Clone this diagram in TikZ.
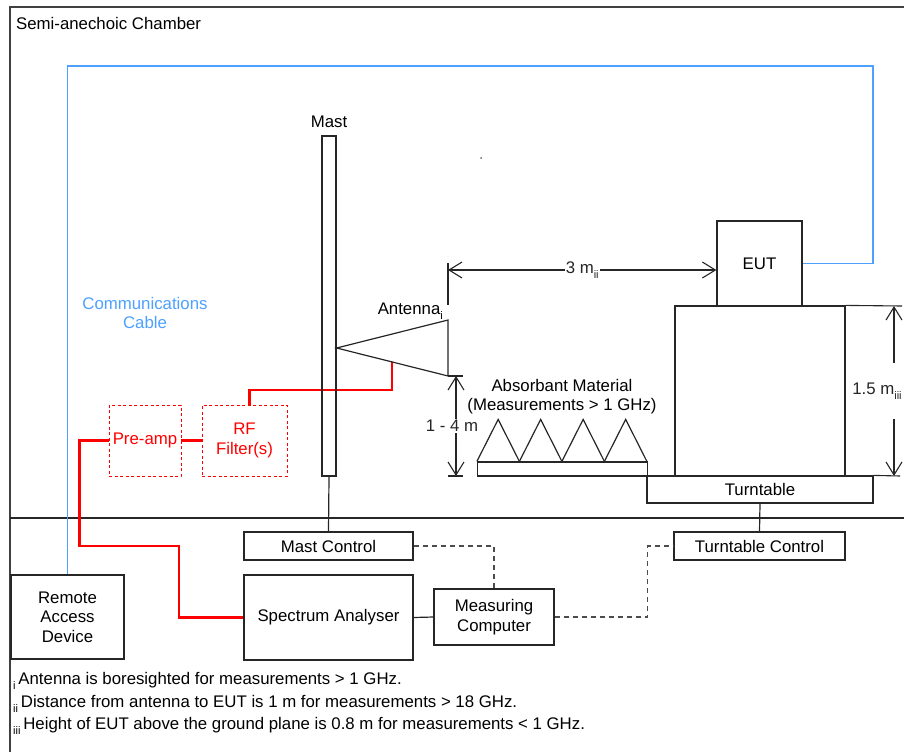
\documentclass[tikz,border=0pt]{standalone}
\usepackage{fontspec}
\setmainfont{Liberation Sans}
\usetikzlibrary{arrows.meta}

\definecolor{cableblue}{RGB}{77,160,255}
\definecolor{rfred}{RGB}{255,0,0}
\newcommand{\fnmark}[1]{\raisebox{-0.55ex}{\fontsize{11}{11}\selectfont #1}}

\tikzset{
    box/.style={draw=black!85, line width=1.2pt, inner sep=0pt, align=center},
    rfbox/.style={draw=rfred, dash pattern=on 3pt off 2.5pt, line width=0.9pt, text=rfred, inner sep=0pt, align=center},
    rfline/.style={draw=rfred, line width=2.6pt},
    cable/.style={draw=cableblue, line width=1.6pt},
    wire/.style={draw=black!85, line width=1.2pt},
    ctrl/.style={draw=black!70, dash pattern=on 5pt off 4pt, line width=1.2pt},
    dim/.style={black!85, line width=1.1pt, {Straight Barb[length=13pt,width=16pt]}-{Straight Barb[length=13pt,width=16pt]}},
    lbl/.style={inner sep=1pt}
}

\begin{document}
\begin{tikzpicture}[x=1pt, y=-1pt, font=\fontsize{16.8}{19.5}\selectfont]
    \useasboundingbox (0,0) rectangle (904,752);

    % chamber
    \draw[black!75, line width=2.6pt] (10,752) -- (10,7) -- (904,7);
    \draw[wire] (10,518) -- (904,518);
    \node[anchor=west, lbl] (chamber) at (15,23) {Semi-anechoic Chamber};
    \fill[black!60] (481,158) circle (1pt);

    % lower equipment
    \node[box, minimum width=169pt, minimum height=28pt] (mastctl) at (328.5,546) {Mast Control};
    \node[box, minimum width=171pt, minimum height=28pt] (ttctl) at (759.5,546) {Turntable Control};
    \node[box, minimum width=169pt, minimum height=85pt] (spec) at (328.5,617.5) {Spectrum Analyser};
    \node[box, minimum width=120pt, minimum height=56pt] (meas) at (494,617) {Measuring\\Computer};
    \node[box, minimum width=113pt, minimum height=84pt] (remote) at (67.5,617) {Remote\\Access\\Device};

    % rf chain
    \node[rfbox, minimum width=72pt, minimum height=71pt] (preamp) at (145,440.5) {Pre-amp};
    \node[rfbox, minimum width=85pt, minimum height=71pt] (filter) at (244.5,440.5) {RF\\Filter(s)};
    \coordinate (feed) at (392,362);
    \draw[rfline] ([xshift=5pt]filter.north) |- (feed |- 0,390) -- (feed);
    \draw[rfline] (preamp.east) -- (filter.west);
    \draw[rfline] (preamp.west) -- ++(-29,0) |- (179,546) |- (spec.west);

    % mast and antenna
    \node[box, minimum width=14pt, minimum height=340pt] (mast) at (329,306) {};
    \node[lbl] (mastlbl) at (329,122) {Mast};
    \coordinate (apex) at (mast.east |- 0,348);
    \coordinate (anttop) at (448,320);
    \coordinate (antbot) at (448,376);
    \draw[wire] (anttop) -- (apex) -- (antbot) -- cycle;
    \node[lbl, anchor=east] (antlbl) at (444,311) {Antenna\fnmark{i}};

    % eut, table, turntable
    \node[box, minimum width=85pt, minimum height=85pt] (eut) at (759.5,263.5) {EUT};
    \node[box, minimum width=170pt, minimum height=170pt] (table) at (760,391) {};
    \node[box, minimum width=226pt, minimum height=27pt] (turntable) at (760,489.5) {Turntable};

    % absorber
    \node[box, minimum width=170pt, minimum height=14pt] (absorber) at (562.5,469) {};
    \foreach \i in {0,...,3}
        \draw[wire] ([xshift={42.5*\i}]absorber.north west) -- ++(21.25,-42) -- ++(21.25,42);
    \node[lbl, align=center] (absorblbl) at (562,396.5) {Absorbant Material\\(Measurements > 1 GHz)};

    % dimensions
    \coordinate (ext3) at (448,270);
    \draw[wire, line width=1.1pt] (448,263) -- (448,305);
    \draw[dim] (ext3) -- (eut.west |- ext3) node[midway, fill=white, lbl] (dist) {3 m\fnmark{ii}};
    \coordinate (ground) at (456,476);
    \draw[wire, line width=1.1pt] (antbot) -- ++(15,0);
    \draw[wire, line width=1.1pt] (448,476) -- ++(15,0);
    \draw[dim] (antbot -| ground) -- (ground) node[midway, fill=white, lbl, xshift=-4pt] (range) {1 - 4 m};
    \draw[wire, line width=1.1pt] (table.north east) -- (902,306);
    \draw[wire, line width=1.1pt] (turntable.north east) -- (900,476);
    \draw[dim] (894,306) -- (894,476) node[midway, fill=white, inner xsep=1pt, inner ysep=20pt, xshift=-17pt] (height) {1.5 m\fnmark{iii}};

    % cable
    \draw[cable] (remote.north) |- (873,66) |- (eut.east);
    \node[lbl, text=cableblue, align=center] (cablelbl) at (145,313) {Communications\\Cable};

    % links
    \draw[wire] (mast.south) -- (mastctl.north);
    \draw[wire] (turntable.south) -- (ttctl.north);
    \draw[wire] (spec.east) -- (meas.west);
    \draw[ctrl] (mastctl.east) -| (meas.north);
    \draw[ctrl] (meas.east) -- ++(93,0) |- (ttctl.west);

    % notes
    \node[anchor=west, lbl] (note1) at (12,681) {\fnmark{i}\,Antenna is boresighted for measurements > 1 GHz.};
    \node[anchor=west, lbl] (note2) at (12,704) {\fnmark{ii}\,Distance from antenna to EUT is 1 m for measurements > 18 GHz.};
    \node[anchor=west, lbl] (note3) at (12,726) {\fnmark{iii}\,Height of EUT above the ground plane is 0.8 m for measurements < 1 GHz.};
\end{tikzpicture}
\end{document}
